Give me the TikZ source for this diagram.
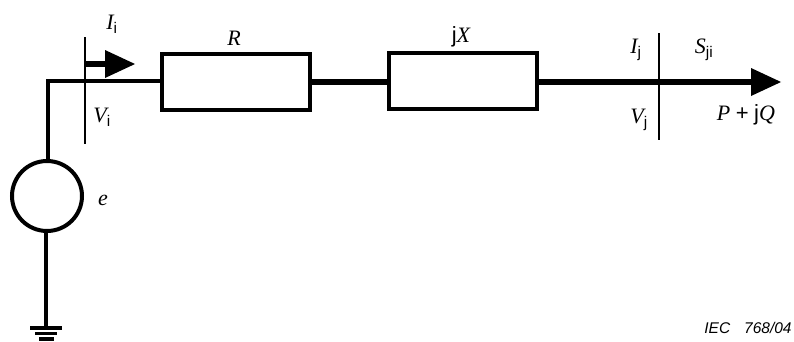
\documentclass[tikz,border=0pt]{standalone}
\usepackage{fontspec}
\setmainfont{Liberation Serif}
\setsansfont{Liberation Sans}
\usetikzlibrary{arrows.meta}
\newcommand{\sbs}[1]{\textsubscript{\sffamily\upshape #1}}
\tikzset{
  x=1pt,y=-1pt,
  box/.style={draw,line width=4pt,rectangle,minimum width=148pt,minimum height=56pt,inner sep=0pt,outer sep=0pt},
  src/.style={draw,line width=4pt,circle,minimum size=70pt,inner sep=0pt,outer sep=0pt},
  wire/.style={line width=4pt},
  heavy/.style={line width=6pt},
  tick/.style={line width=2pt},
  lab/.style={font=\fontsize{22}{25}\selectfont\itshape,inner sep=0pt,anchor=base},
  bar/.style={line width=3.5pt},
  headed/.style={line width=5.5pt,-{Triangle[length=30pt,width=28pt,line width=0pt]}}
}
\begin{document}
\begin{tikzpicture}
\useasboundingbox (0,0) rectangle (794,341);
\node[box] (R) at (236,82) {};
\node[box] (X) at (463,81) {};
\node[src] (E) at (47,196) {};
\coordinate (corner) at (48,81);
\coordinate (top) at (48,160);
\coordinate (gnd) at (46,328);
\coordinate (ga) at (30,328); \coordinate (gb) at (62,328);
\coordinate (gc) at (35,333.5); \coordinate (gd) at (57,333.5);
\coordinate (ge) at (39,339); \coordinate (gf) at (54,339);
\coordinate (ti) at (85,37); \coordinate (bi) at (85,144);
\coordinate (ai) at (85,64); \coordinate (ae) at (135,64);
\coordinate (tj) at (659,33); \coordinate (bj) at (659,140);
\coordinate (xo) at (537,82); \coordinate (out) at (781,82);
\draw[wire,line join=miter] (top) -- (corner) -- (R.west |- corner);
\draw[tick] (ti) -- (bi);
\draw[headed] (ai) -- (ae);
\draw[heavy] (R.east |- 0,82) -- (X.west |- 0,82);
\draw[headed] (xo) -- (out);
\draw[tick] (tj) -- (bj);
\draw[wire] (E.south -| gnd) -- (gnd);
\draw[bar] (ga) -- (gb);
\draw[bar] (gc) -- (gd);
\draw[bar] (ge) -- (gf);
\node[lab] (li) at (112,29) {I\sbs{i}};
\node[lab] (lvi) at (102,122) {V\sbs{i}};
\node[lab] (lr) at (234,45) {R};
\node[lab] (lx) at (461,42) {{\upshape\sffamily j}X};
\node[lab] (lij) at (636,53) {I\sbs{j}};
\node[lab] (lsj) at (704,53) {S\sbs{ji}};
\node[lab] (lvj) at (639,123) {V\sbs{j}};
\node[lab] (lpq) at (746,120) {P {\upshape\sffamily +} {\upshape\sffamily j}Q};
\node[lab] (le) at (103,205) {e};
\node[inner sep=0pt,anchor=base,font=\fontsize{15.5}{18}\selectfont\sffamily\itshape] (iec) at (748,333) {IEC\hspace{0.9em}768/04};
\end{tikzpicture}
\end{document}
